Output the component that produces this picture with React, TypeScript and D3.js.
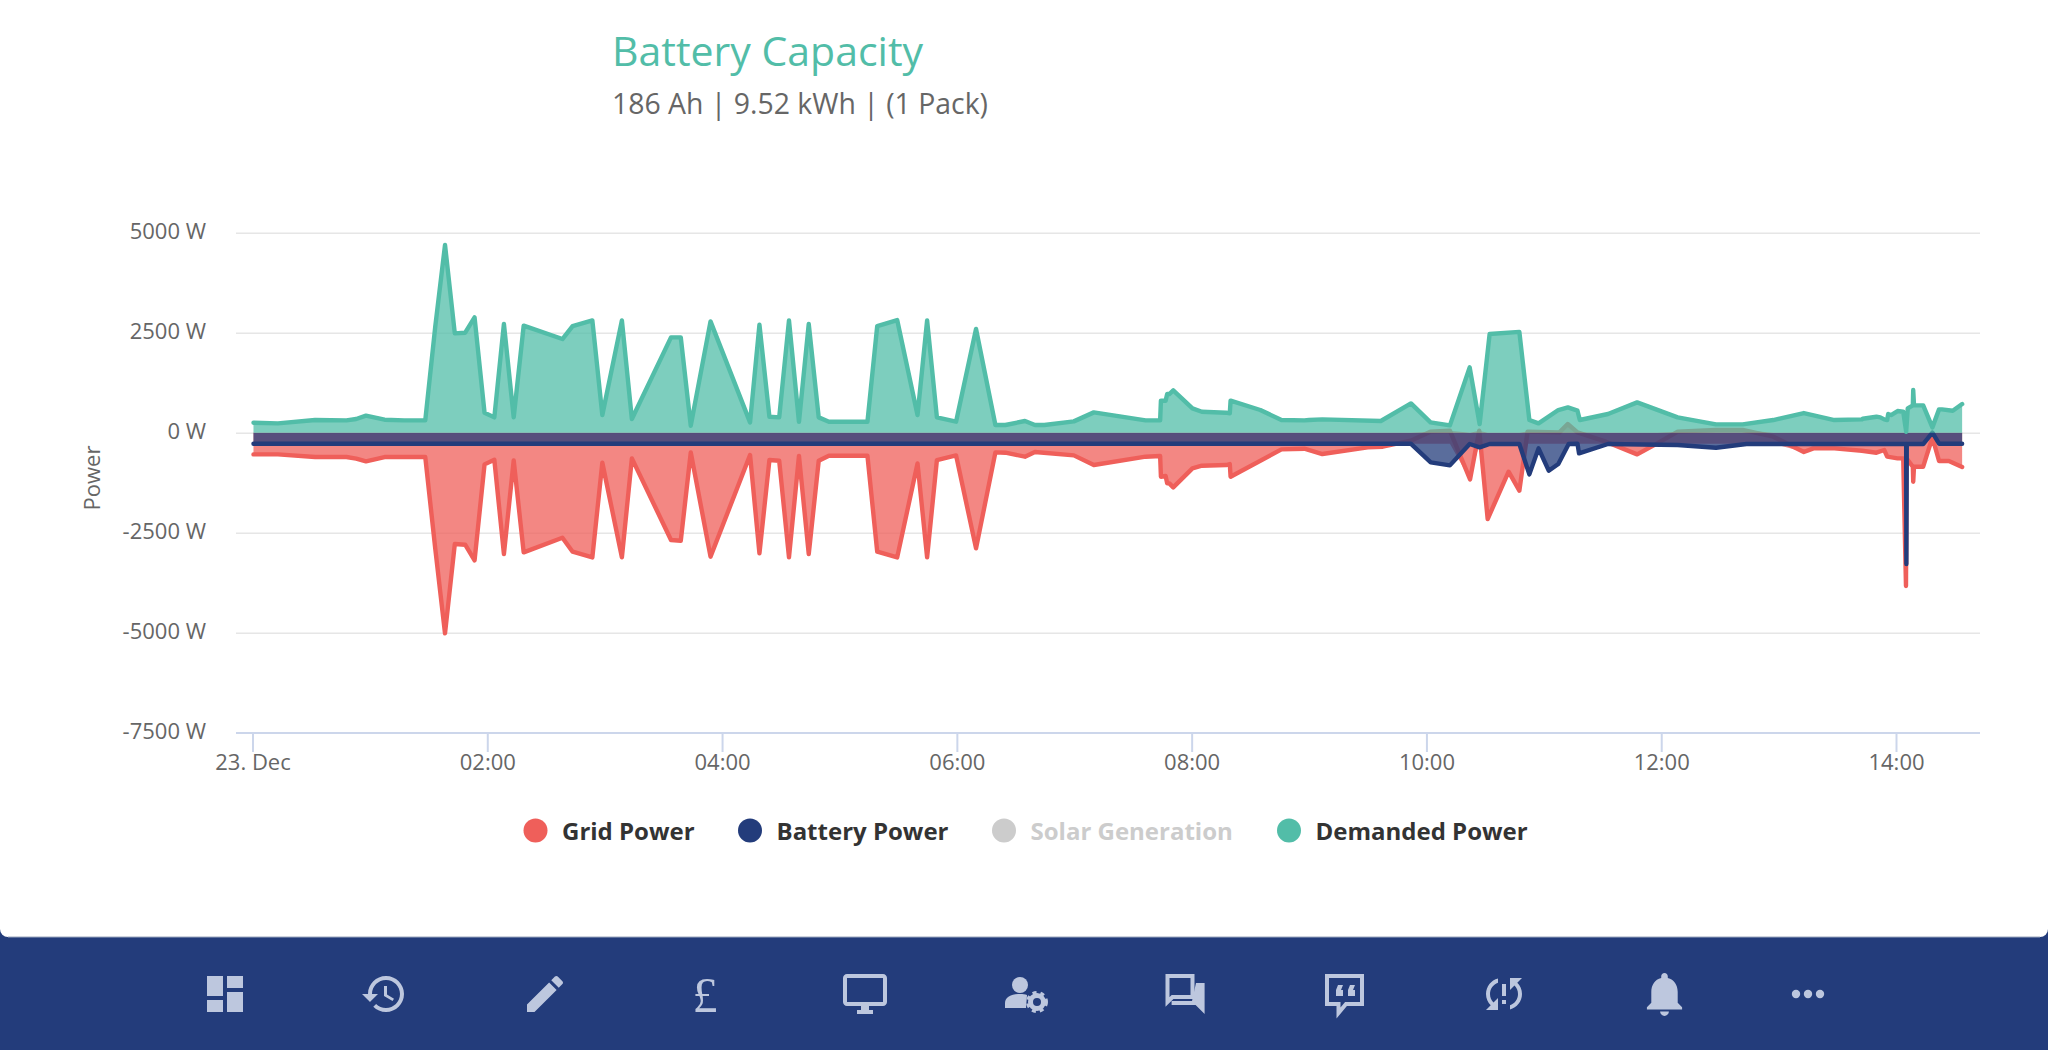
import * as d3 from "d3";
import { useEffect, useRef } from "react";

// minutes since midnight, watts
const demandTimes = [0.5, 13, 32, 48, 53, 58, 67.5, 77.6, 88.3, 93.4, 98.4, 103.4, 108.7, 113.5, 118.6, 123.6, 128.5, 133.5, 138.6, 158.4, 163.6, 173.7, 178.8, 188.8, 193.9, 213.9, 218.9, 224, 234.1, 254.3, 259.1, 264.2, 269.2, 274.2, 279.3, 284.3, 289.4, 294.6, 314.3, 319.3, 329.5, 339.9, 344.8, 349.8, 359.6, 369.8, 379.7, 384.8, 394.8, 399.9, 404.7, 419.8, 430, 456.5, 463.9, 464.3, 466.7, 467.5, 468.6, 470.6, 480.4, 485.2, 497.6, 499.5, 499.9, 515.1, 525.9, 537.6, 540, 546.8, 576.7, 592.1, 602.1, 612, 622.1, 627.2, 632.3, 647.5, 652.6, 657.3, 667.4, 672.3, 677.2, 678.4, 692.8, 707.7, 728.4, 748, 761.6, 777.3, 792.9, 808.5, 822.6, 823, 830, 832, 834, 835.5, 836, 837.5, 840.8, 843.7, 845.2, 846, 848.6, 848.8, 849.2, 853.9, 858.6, 862, 863.5, 869, 873.8];
const demandValues = [250, 233, 317, 308, 342, 425, 325, 308, 308, 2650, 4692, 2483, 2500, 2883, 500, 383, 2717, 383, 2675, 2342, 2667, 2808, 442, 2808, 342, 2383, 2383, 175, 2783, 258, 2700, 400, 383, 2808, 275, 2717, 383, 275, 275, 2667, 2817, 442, 2808, 383, 275, 2592, 192, 192, 292, 192, 192, 283, 508, 308, 308, 800, 800, 967, 967, 1058, 608, 525, 500, 483, 800, 567, 317, 308, 317, 333, 292, 733, 258, 183, 1633, 217, 2467, 2520, 317, 233, 567, 633, 550, 317, 467, 758, 383, 208, 208, 317, 492, 317, 333, 350, 400, 383, 333, 317, 467, 442, 542, 525, 25, 608, 683, 1067, 683, 683, 133, 583, 583, 550, 717];

const gridTimes = [0.5, 13, 32, 48, 53, 58, 67.5, 77.6, 88.3, 93.4, 98.4, 103.4, 108.7, 113.5, 118.6, 123.6, 128.5, 133.5, 138.6, 158.4, 163.6, 173.7, 178.8, 188.8, 193.9, 213.9, 218.9, 224, 234.1, 254.3, 259.1, 264.2, 269.2, 274.2, 279.3, 284.3, 289.4, 294.6, 314.3, 319.3, 329.5, 339.9, 344.8, 349.8, 359.6, 369.8, 379.7, 384.8, 394.8, 399.9, 419.8, 430, 456.5, 463.9, 464.3, 466.7, 467.5, 468.6, 470.6, 480.4, 485.2, 497.6, 499.5, 499.9, 525.9, 537.6, 546.8, 570, 577.7, 592, 602, 612, 622.3, 627, 631.3, 642, 647.5, 651.7, 668, 672.2, 677.2, 691.7, 707.7, 718, 728.4, 748, 761.6, 777.3, 792.9, 797.8, 808.5, 822.6, 830, 834, 835.5, 840.8, 843.7, 845.1, 845.4, 848.6, 848.8, 849.2, 853.9, 858.6, 862, 867, 873.8];
const gridValues = [-542, -542, -608, -608, -650, -717, -608, -608, -608, -2895, -5017, -2783, -2800, -3192, -792, -675, -3033, -692, -2992, -2625, -2975, -3117, -750, -3117, -642, -2683, -2700, -492, -3100, -558, -3017, -683, -700, -3117, -583, -3033, -700, -575, -575, -2975, -3117, -767, -3117, -683, -567, -2892, -492, -500, -600, -483, -567, -808, -600, -583, -1100, -1083, -1267, -1267, -1367, -892, -825, -808, -783, -1100, -417, -400, -533, -367, -350, -200, 26, 50, -1167, 50, -2158, -975, -1450, 26, 9, 217, 9, -225, -542, -266, 26, 70, 70, -100, -483, -392, -392, -450, -500, -433, -600, -642, -642, -3833, -642, -850, -1225, -850, -850, -117, -708, -708, -858];

const batteryTimes = [0.5, 592, 602.2, 612, 622.1, 627.2, 632.3, 647.5, 652.6, 657.3, 662.5, 667.4, 672.7, 677.2, 678, 692.8, 728.4, 748, 763.6, 845.2, 845.3, 845.5, 853.9, 858.6, 862, 873.8];
const batteryValues = [-275, -275, -742, -817, -283, -367, -283, -283, -1042, -392, -950, -783, -283, -275, -517, -283, -308, -375, -283, -283, -3283, -283, -283, 0, -275, -275];

const batteryFloor = -275;

const yTicks = [5000, 2500, 0, -2500, -5000, -7500];
const xTickTimes = [0, 120, 240, 360, 480, 600, 720, 840];
const xTickLabels = ["23. Dec", "02:00", "04:00", "06:00", "08:00", "10:00", "12:00", "14:00"];

const legendNames = ["Grid Power", "Battery Power", "Solar Generation", "Demanded Power"];
const legendColors = ["#ef5f5a", "#233c7b", "#cccccc", "#52bda8"];
const legendMarkerX = [535.5, 750, 1004, 1289];

const GRID = "#ef5f5a";
const BATTERY = "#233c7b";
const DEMAND = "#52bda8";
const FONT = "'Open Sans', sans-serif";
const ICON = "#bdc7de";

const pair = (times: number[], values: number[]) => times.map((t, i) => ({ t, v: values[i] }));

// 24 unit icons for the nav bar
const Icon = ({ cx, d, scale = 2 }: { cx: number; d: string; scale?: number }) => (
    <path d={d} fill={ICON} transform={`translate(${cx},994) scale(${scale}) translate(-12,-12)`} />
);

const NavBar = () => (
    <g>
        <rect x={0} y={925} width={2048} height={125} fill="#233c7b" />
        <rect x={0} y={0} width={2048} height={937} rx={8} fill="#ffffff" />
        <line x1={8} x2={2040} y1={937} y2={937} stroke="#9aa5bd" strokeWidth={1} />
        <Icon cx={225} d="M3 13h8V3H3v10zm0 8h8v-6H3v6zm10 0h8V11h-8v10zm0-18v6h8V3h-8z" />
        <Icon cx={384} d="M13 3c-4.97 0-9 4.03-9 9H1l3.89 3.89.07.14L9 12H6c0-3.87 3.13-7 7-7s7 3.13 7 7-3.13 7-7 7c-1.93 0-3.68-.79-4.94-2.06l-1.42 1.42C8.27 19.99 10.51 21 13 21c4.97 0 9-4.03 9-9s-4.03-9-9-9zm-1 5v5l4.28 2.54.72-1.21-3.5-2.08V8h-1.5z" />
        <Icon cx={545} d="M3 17.25V21h3.75L17.81 9.94l-3.75-3.75L3 17.25zM20.71 7.04c.39-.39.39-1.02 0-1.41l-2.34-2.34c-.39-.39-1.02-.39-1.41 0l-1.83 1.83 3.75 3.75 1.83-1.83z" />
        <text x={705} y={1012} textAnchor="middle" fontSize={50} fontFamily="'Liberation Serif', serif" fill={ICON}>£</text>
        <Icon cx={865} d="M21 2H3c-1.1 0-2 .9-2 2v12c0 1.1.9 2 2 2h7v2H8v2h8v-2h-2v-2h7c1.1 0 2-.9 2-2V4c0-1.1-.9-2-2-2zm0 14H3V4h18v12z" />
        <g fill={ICON}>
            <circle cx={1020} cy={985} r={8} />
            <path d="M1005 1008v-5c0-6 7-9 15-9 3 0 5 .4 7 1l-1 13z" />
            <circle cx={1037} cy={1002} r={6.5} fill="none" stroke={ICON} strokeWidth={5} />
            <circle cx={1037} cy={1002} r={9.5} fill="none" stroke={ICON} strokeWidth={3} strokeDasharray="4 4" />
        </g>
        <path d="M1167.5 976h25v21h-20l-5 5z" fill="none" stroke={ICON} strokeWidth={4} />
        <path d="M1196 983h8.6v31l-9-9h-24v-4h20.4z" fill={ICON} />
        <path d="M1327 976h35v28h-16l-7.5 9v-9h-11.500z" fill="none" stroke={ICON} strokeWidth={4} />
        <path d="M1338 985h5l-2 5h2v6h-7v-6zM1350 985h5l-2 5h2v6h-7v-6z" fill={ICON} />
        <Icon cx={1504} d="M3 12c0 2.21.91 4.2 2.36 5.64L3 20h6v-6l-2.24 2.24C5.68 15.15 5 13.66 5 12c0-2.61 1.67-4.83 4-5.65V4.26C5.55 5.15 3 8.27 3 12zm8 5h2v-2h-2v2zM21 4h-6v6l2.24-2.24C18.32 8.85 19 10.34 19 12c0 2.61-1.67 4.83-4 5.65v2.09c3.45-.89 6-4.01 6-7.74 0-2.21-.91-4.2-2.36-5.64L21 4zm-10 9h2V7h-2v6z" />
        <Icon cx={1664.5} scale={2.2} d="M12 22c1.1 0 2-.9 2-2h-4c0 1.1.89 2 2 2zm6-6v-5c0-3.07-1.64-5.64-4.5-6.32V4c0-.83-.67-1.5-1.5-1.5s-1.5.67-1.5 1.5v.68C7.63 5.36 6 7.92 6 11v5l-2 2v1h16v-1l-2-2z" />
        <g fill={ICON}>
            <circle cx={1796} cy={994} r={4.2} />
            <circle cx={1808} cy={994} r={4.2} />
            <circle cx={1820} cy={994} r={4.2} />
        </g>
    </g>
);

const App = () => {
    const ref = useRef<SVGGElement | null>(null);

    useEffect(() => {
        if (!ref.current) return;
        const svg = d3.select(ref.current);
        svg.selectAll("*").remove();

        svg.attr("font-family", FONT);

        const x = d3.scaleLinear().domain([0, 840]).range([252.5, 1896]);
        const y = d3.scaleLinear().domain([5000, -7500]).range([232.7, 732.7]);

        // title
        svg.append("text").attr("x", 612).attr("y", 66).attr("font-size", 41).attr("fill", DEMAND).text("Battery Capacity");
        svg.append("text").attr("x", 612).attr("y", 114).attr("font-size", 28.4).attr("fill", "#666666").text("186 Ah | 9.52 kWh | (1 Pack)");

        // y axis + grid lines
        const yAxis = d3.axisLeft(y)
            .tickValues(yTicks)
            .tickSize(-(1980 - 236))
            .tickFormat(d => `${d} W`);
        const yG = svg.append("g").attr("transform", "translate(236,0)").call(yAxis);
        yG.select(".domain").remove();
        yG.selectAll(".tick line").attr("stroke", "#e6e6e6").attr("stroke-width", 1.6);
        yG.selectAll(".tick text")
            .attr("x", -30)
            .attr("dy", "0.28em")
            .attr("font-family", FONT)
            .attr("font-size", 22)
            .attr("fill", "#666666");

        svg.append("text")
            .attr("transform", "translate(100,478) rotate(-90)")
            .attr("text-anchor", "middle")
            .attr("font-size", 22)
            .attr("fill", "#666666")
            .text("Power");

        // x axis
        const xAxis = d3.axisBottom(x)
            .tickValues(xTickTimes)
            .tickSize(19)
            .tickFormat((_, i) => xTickLabels[i]);
        const xG = svg.append("g").attr("transform", "translate(0,733)").call(xAxis);
        xG.select(".domain").remove();
        xG.append("line").attr("x1", 236).attr("x2", 1980).attr("stroke", "#ccd6eb").attr("stroke-width", 2);
        xG.selectAll(".tick line").attr("stroke", "#ccd6eb").attr("stroke-width", 2);
        xG.selectAll(".tick text")
            .attr("y", 37)
            .attr("dy", 0)
            .attr("font-family", FONT)
            .attr("font-size", 22)
            .attr("fill", "#666666");

        const grid = pair(gridTimes, gridValues);
        const battery = pair(batteryTimes, batteryValues);
        const demand = pair(demandTimes, demandValues);

        const line = d3.line<{ t: number; v: number }>().x(d => x(d.t)).y(d => y(d.v));

        // grid power always tints the strip down to the battery floor
        const gridArea = d3.area<{ t: number; v: number }>()
            .x(d => x(d.t))
            .y0(d => y(Math.max(d.v, 0)))
            .y1(d => y(Math.min(d.v, batteryFloor)));
        const zeroArea = d3.area<{ t: number; v: number }>().x(d => x(d.t)).y0(y(0)).y1(d => y(d.v));

        const draw = (d: { t: number; v: number }[], area: any, color: string) => {
            svg.append("path").datum(d).attr("d", area).attr("fill", color).attr("fill-opacity", 0.75);
            svg.append("path").datum(d).attr("d", line)
                .attr("fill", "none")
                .attr("stroke", color)
                .attr("stroke-width", 4.4)
                .attr("stroke-linejoin", "round")
                .attr("stroke-linecap", "round");
        };
        draw(grid, gridArea, GRID);
        draw(battery, zeroArea, BATTERY);
        draw(demand, zeroArea, DEMAND);

        // legend
        const legend = svg.append("g").selectAll("g").data(legendNames).join("g");
        legend.append("circle")
            .attr("cx", (_, i) => legendMarkerX[i])
            .attr("cy", 830.5)
            .attr("r", 12)
            .attr("fill", (_, i) => legendColors[i]);
        legend.append("text")
            .attr("x", (_, i) => legendMarkerX[i] + 26.5)
            .attr("y", 839.5)
            .attr("font-size", 24)
            .attr("font-weight", 700)
            .attr("fill", (_, i) => (i === 2 ? "#cccccc" : "#333333"))
            .text(d => d);
    }, []);

    return (
        <svg width={2048} height={1050} style={{ position: "absolute", left: 0, top: 0, display: "block" }}>
            <NavBar />
            <g ref={ref} />
        </svg>
    );
};

export default App;
